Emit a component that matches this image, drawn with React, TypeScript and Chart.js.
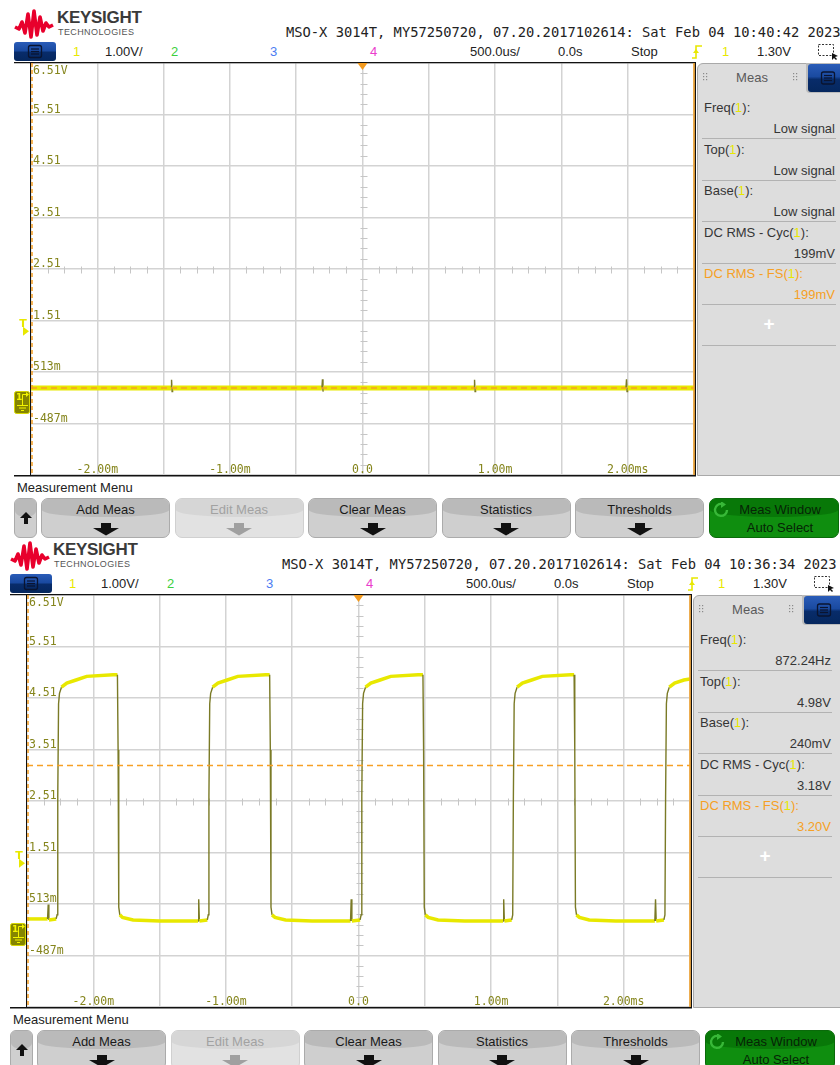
import React, { useEffect, useRef } from 'react';
import { Chart, registerables } from 'chart.js';

Chart.register(...registerables);

// ---- Graticule: 10 divisions of 500 us, 8 divisions of 1.00 V ----
const timeGridMs = [-2.5, -2, -1.5, -1, -0.5, 0, 0.5, 1, 1.5, 2, 2.5];
const voltGrid = [-1.49, -0.49, 0.51, 1.51, 2.51, 3.51, 4.51, 5.51, 6.51];
const voltLabelValues = [-0.49, 0.51, 1.51, 2.51, 3.51, 4.51, 5.51, 6.51];
const voltLabels = ['-487m', '513m', '1.51', '2.51', '3.51', '4.51', '5.51', '6.51V'];
const timeLabelValues = [-2, -1, 0, 1, 2];
const timeLabels = ['-2.00m', '-1.00m', '0.0', '1.00m', '2.00ms'];
const triggerLevelV = 1.3;
const triggerTimeMs = 0;
const groundV = 0;

// ---- Channel 1 captures, [time in ms, volts] ----
const idleTrace: [number, number][] = [
  [-2.5, 0.2], [-1.444, 0.2], [-1.44, 0.36], [-1.436, 0.13], [-1.432, 0.2],
  [-0.306, 0.2], [-0.302, 0.37], [-0.298, 0.13], [-0.294, 0.2],
  [0.841, 0.2], [0.845, 0.36], [0.849, 0.13], [0.853, 0.2],
  [1.987, 0.2], [1.991, 0.37], [1.995, 0.13], [1.999, 0.2],
  [2.5, 0.2],
];

const clockTrace: [number, number][] = [
  [-2.5, 0.22], [-2.345, 0.22], [-2.34, 0.5], [-2.335, 0.2], [-2.28, 0.22],
  [-2.273, 0.3], [-2.268, 2.6], [-2.262, 4.4], [-2.255, 4.6], [-2.24, 4.72], [-2.2, 4.8], [-2.13, 4.86], [-2.05, 4.93], [-1.85, 4.96], [-1.818, 4.96],
  [-1.813, 3.5], [-1.808, 0.45], [-1.8, 0.3], [-1.78, 0.25], [-1.7, 0.2], [-1.5, 0.18], [-1.21, 0.18], [-1.205, 0.6], [-1.2, 0.18], [-1.14, 0.2],
  [-1.133, 0.3], [-1.128, 2.6], [-1.122, 4.4], [-1.115, 4.6], [-1.1, 4.72], [-1.06, 4.8], [-0.99, 4.86], [-0.91, 4.93], [-0.7, 4.96], [-0.67, 4.96],
  [-0.665, 3.5], [-0.66, 0.45], [-0.652, 0.3], [-0.63, 0.25], [-0.55, 0.2], [-0.35, 0.18], [-0.06, 0.18], [-0.055, 0.6], [-0.05, 0.18], [0.012, 0.2],
  [0.02, 0.3], [0.025, 2.6], [0.031, 4.4], [0.038, 4.6], [0.053, 4.72], [0.093, 4.8], [0.163, 4.86], [0.243, 4.93], [0.45, 4.96], [0.486, 4.96],
  [0.491, 3.5], [0.496, 0.45], [0.504, 0.3], [0.526, 0.25], [0.6, 0.2], [0.8, 0.18], [1.09, 0.18], [1.095, 0.6], [1.1, 0.18], [1.155, 0.2],
  [1.163, 0.3], [1.168, 2.6], [1.174, 4.4], [1.181, 4.6], [1.196, 4.72], [1.236, 4.8], [1.306, 4.86], [1.386, 4.93], [1.6, 4.96], [1.626, 4.96],
  [1.631, 3.5], [1.636, 0.45], [1.644, 0.3], [1.666, 0.25], [1.74, 0.2], [1.94, 0.18], [2.235, 0.18], [2.24, 0.6], [2.245, 0.18], [2.303, 0.2],
  [2.311, 0.3], [2.316, 2.6], [2.322, 4.4], [2.329, 4.6], [2.344, 4.72], [2.384, 4.8], [2.454, 4.86], [2.5, 4.88],
];

// ---- Measurement readouts ----
const measNames = ['Freq', 'Top', 'Base', 'DC RMS - Cyc', 'DC RMS - FS'];
const idleReadouts = ['Low signal', 'Low signal', 'Low signal', '199mV', '199mV'];
const clockReadouts = ['872.24Hz', '4.98V', '240mV', '3.18V', '3.20V'];
const idleRmsV = 0.199;
const clockRmsV = 3.2;

const menuKeys = ['Add Meas', 'Edit Meas', 'Clear Meas', 'Statistics', 'Thresholds'];

const YELLOW = '#e8e800';
const ORANGE = '#f6a024';
const SANS = '"Liberation Sans", Arial, sans-serif';
const MONO = '"DejaVu Sans Mono", monospace';

const steep = (c: any) => Math.abs(c.p1.y - c.p0.y) > 3 * Math.abs(c.p1.x - c.p0.x);

// Draws labels, centre-axis minor ticks, frame and channel markers
const graticule = {
  id: 'graticule',
  beforeDatasetsDraw(chart: any) {
    const { ctx, chartArea: a, scales } = chart;
    const x = scales.x;
    const y = scales.y;
    ctx.save();
    ctx.strokeStyle = '#c6c6c6';
    ctx.lineWidth = 1;
    ctx.beginPath();
    const cx = Math.round(x.getPixelForValue(0)) + 0.5;
    const cy = Math.round(y.getPixelForValue(2.51)) + 0.5;
    for (let i = 1; i < 40; i++) {
      if (i % 5 === 0) continue;
      const py = Math.round(y.getPixelForValue(-1.49 + i * 0.2)) + 0.5;
      ctx.moveTo(cx - 3, py);
      ctx.lineTo(cx + 4, py);
    }
    for (let i = 1; i < 40; i++) {
      if (i % 4 === 0) continue;
      const px = Math.round(x.getPixelForValue(-2.5 + i * 0.125)) + 0.5;
      ctx.moveTo(px, cy - 3);
      ctx.lineTo(px, cy + 4);
    }
    ctx.stroke();

    ctx.fillStyle = '#85851c';
    ctx.font = '11.5px ' + MONO;
    ctx.textAlign = 'left';
    voltLabelValues.forEach((v, i) => {
      const py = y.getPixelForValue(v);
      if (i === voltLabelValues.length - 1) {
        ctx.textBaseline = 'top';
        ctx.fillText(voltLabels[i], a.left + 2, py + 2);
      } else {
        ctx.textBaseline = 'alphabetic';
        ctx.fillText(voltLabels[i], a.left + 2, py - 2);
      }
    });
    ctx.textAlign = 'center';
    ctx.textBaseline = 'alphabetic';
    timeLabelValues.forEach((t, i) => {
      ctx.fillText(timeLabels[i], x.getPixelForValue(t), a.bottom - 2);
    });
    ctx.restore();
  },
  afterDraw(chart: any) {
    const { ctx, chartArea: a, scales } = chart;
    const x = scales.x;
    const y = scales.y;
    ctx.save();
    // frame
    ctx.strokeStyle = '#111';
    ctx.lineWidth = 1.5;
    ctx.beginPath();
    ctx.moveTo(6, a.top - 0.5);
    ctx.lineTo(a.right + 2, a.top - 0.5);
    ctx.moveTo(6, a.bottom + 0.75);
    ctx.lineTo(a.right + 2, a.bottom + 0.75);
    ctx.moveTo(a.right + 1.25, a.top);
    ctx.lineTo(a.right + 1.25, a.bottom);
    ctx.stroke();
    ctx.lineWidth = 1;
    ctx.beginPath();
    ctx.moveTo(a.left - 0.5, a.top);
    ctx.lineTo(a.left - 0.5, a.bottom);
    ctx.stroke();
    // measurement window edges
    ctx.strokeStyle = ORANGE;
    ctx.lineWidth = 1.5;
    ctx.setLineDash([4, 3]);
    ctx.beginPath();
    ctx.moveTo(a.left + 1, a.top);
    ctx.lineTo(a.left + 1, a.bottom);
    ctx.stroke();
    ctx.setLineDash([]);
    ctx.beginPath();
    ctx.moveTo(a.right, a.top);
    ctx.lineTo(a.right, a.bottom);
    ctx.stroke();
    // trigger time marker
    const tx = x.getPixelForValue(triggerTimeMs);
    ctx.fillStyle = '#f39a1e';
    ctx.beginPath();
    ctx.moveTo(tx - 5, a.top);
    ctx.lineTo(tx + 5, a.top);
    ctx.lineTo(tx, a.top + 7);
    ctx.closePath();
    ctx.fill();
    // trigger level marker
    const ty = y.getPixelForValue(triggerLevelV);
    ctx.fillStyle = YELLOW;
    ctx.strokeStyle = YELLOW;
    ctx.font = 'bold 11px "DejaVu Sans", sans-serif';
    ctx.textAlign = 'center';
    ctx.textBaseline = 'alphabetic';
    ctx.fillText('T', a.left - 8, ty - 4);
    ctx.beginPath();
    ctx.moveTo(a.left - 8, ty - 4.5);
    ctx.lineTo(a.left - 8, ty + 4.5);
    ctx.lineTo(a.left - 2, ty);
    ctx.closePath();
    ctx.fill();
    // channel 1 ground marker
    const gy = Math.round(y.getPixelForValue(groundV));
    const bx = a.left - 17;
    const by = gy - 7;
    ctx.fillStyle = '#858500';
    ctx.strokeStyle = '#d8d800';
    ctx.lineWidth = 1;
    ctx.beginPath();
    ctx.roundRect(bx + 0.5, by + 0.5, 15, 22, 2);
    ctx.fill();
    ctx.stroke();
    ctx.fillStyle = '#f4f400';
    ctx.font = 'bold 9px "DejaVu Sans", sans-serif';
    ctx.textAlign = 'left';
    ctx.textBaseline = 'top';
    ctx.fillText('1', bx + 2, by + 2);
    ctx.strokeStyle = '#f4f400';
    ctx.beginPath();
    ctx.moveTo(bx + 8.5, by + 10);
    ctx.lineTo(bx + 8.5, by + 3.5);
    ctx.lineTo(bx + 12, by + 3.5);
    ctx.moveTo(bx + 8.5, by + 10);
    ctx.lineTo(bx + 8.5, by + 14);
    ctx.moveTo(bx + 3, by + 14.5);
    ctx.lineTo(bx + 14, by + 14.5);
    ctx.moveTo(bx + 5, by + 17);
    ctx.lineTo(bx + 12, by + 17);
    ctx.moveTo(bx + 7, by + 19.5);
    ctx.lineTo(bx + 10, by + 19.5);
    ctx.stroke();
    ctx.beginPath();
    ctx.moveTo(bx + 12, by + 1);
    ctx.lineTo(bx + 15, by + 3.5);
    ctx.lineTo(bx + 12, by + 6);
    ctx.closePath();
    ctx.fill();
    ctx.restore();
  },
};

function ScopePlot({ trace, rms, width }: { trace: [number, number][]; rms: number; width: number }) {
  const ref = useRef<HTMLCanvasElement>(null);
  useEffect(() => {
    const chart = new Chart(ref.current as HTMLCanvasElement, {
      type: 'line',
      data: {
        datasets: [
          {
            data: [{ x: -2.5, y: rms }, { x: 2.5, y: rms }],
            borderColor: ORANGE,
            borderWidth: 1.5,
            borderDash: [6, 4],
            pointRadius: 0,
          },
          {
            data: trace.map(([t, v]) => ({ x: t, y: v })),
            borderColor: YELLOW,
            borderWidth: width,
            pointRadius: 0,
            tension: 0,
            segment: {
              borderColor: (c: any) => (steep(c) ? '#7a7a26' : YELLOW),
              borderWidth: (c: any) => (steep(c) ? 1.4 : width),
            },
          } as any,
        ],
      },
      options: {
        animation: false,
        responsive: false,
        maintainAspectRatio: false,
        events: [],
        layout: { padding: { left: 23, right: 2, top: 1, bottom: 2 } },
        plugins: { legend: { display: false }, tooltip: { enabled: false } },
        scales: {
          x: {
            type: 'linear',
            min: -2.5,
            max: 2.5,
            afterBuildTicks: (s: any) => {
              s.ticks = timeGridMs.map((v) => ({ value: v }));
            },
            ticks: { display: false },
            grid: { color: '#d3d3d3', lineWidth: 1.5, drawTicks: false },
            border: { display: false },
          },
          y: {
            type: 'linear',
            min: -1.49,
            max: 6.51,
            afterBuildTicks: (s: any) => {
              s.ticks = voltGrid.map((v) => ({ value: v }));
            },
            ticks: { display: false },
            grid: { color: '#d3d3d3', lineWidth: 1.5, drawTicks: false },
            border: { display: false },
          },
        },
      },
      plugins: [graticule],
    });
    return () => chart.destroy();
  }, [trace, rms, width]);
  return (
    <canvas
      ref={ref}
      width={688}
      height={415}
      style={{ position: 'absolute', left: 8, top: 62, width: 688, height: 415 }}
    />
  );
}

function Logo() {
  return (
    <div style={{ position: 'absolute', left: 14, top: 8 }}>
      <svg width="40" height="32" style={{ position: 'absolute', left: 0, top: 0 }}>
        <polyline
          points="1,19 5,21 8,14 11,25 14,6 17,29 20,3 23,27 26,9 29,23 32,15 35,19 39,17"
          fill="none"
          stroke="#e8002c"
          strokeWidth="3.6"
          strokeLinejoin="round"
        />
      </svg>
      <div style={{ position: 'absolute', left: 43, top: 0, font: 'bold 17px ' + SANS, letterSpacing: -0.3, color: '#3a3a3a', whiteSpace: 'nowrap' }}>
        KEYSIGHT
      </div>
      <div style={{ position: 'absolute', left: 44, top: 19, font: '9px ' + SANS, letterSpacing: 0.4, color: '#555', whiteSpace: 'nowrap' }}>
        TECHNOLOGIES
      </div>
    </div>
  );
}

function MenuIcon({ left, top, w, h }: { left: number; top: number; w: number; h: number }) {
  return (
    <div
      style={{
        position: 'absolute', left, top, width: w, height: h, borderRadius: 3,
        background: 'linear-gradient(#2a5cb8 0%, #1a4aa0 45%, #082c6a 55%, #05275e 100%)',
      }}
    >
      <svg width={w} height={h} style={{ position: 'absolute', left: 0, top: 0 }}>
        <rect x={w / 2 - 6.5} y={h / 2 - 6} width="13" height="12" rx="2" fill="none" stroke="#0a1430" strokeWidth="1.3" />
        <line x1={w / 2 - 4} x2={w / 2 + 4} y1={h / 2 - 2.5} y2={h / 2 - 2.5} stroke="#0a1430" strokeWidth="1.2" />
        <line x1={w / 2 - 4} x2={w / 2 + 4} y1={h / 2} y2={h / 2} stroke="#0a1430" strokeWidth="1.2" />
        <line x1={w / 2 - 4} x2={w / 2 + 4} y1={h / 2 + 2.5} y2={h / 2 + 2.5} stroke="#0a1430" strokeWidth="1.2" />
      </svg>
    </div>
  );
}

const statusItems: [string, number, string][] = [
  ['1', 73, YELLOW],
  ['1.00V/', 105, '#222'],
  ['2', 171, '#3ccf3c'],
  ['3', 270, '#4c7cf2'],
  ['4', 370, '#ea3ccc'],
  ['500.0us/', 470, '#222'],
  ['0.0s', 558, '#222'],
  ['Stop', 631, '#222'],
  ['1', 722, YELLOW],
  ['1.30V', 757, '#222'],
];

function StatusRow() {
  return (
    <>
      <MenuIcon left={14} top={42} w={42} h={19} />
      {statusItems.map(([t, x, c], i) => (
        <div key={i} style={{ position: 'absolute', left: x, top: 44, font: '13px ' + SANS, color: c, lineHeight: '16px', whiteSpace: 'nowrap' }}>
          {t}
        </div>
      ))}
      <svg width="12" height="16" style={{ position: 'absolute', left: 691, top: 44 }}>
        <polyline points="1,14 5,14 5,2 11,2" fill="none" stroke={YELLOW} strokeWidth="1.6" />
        <polygon points="2,9 8,9 5,5" fill={YELLOW} />
      </svg>
      <svg width="24" height="18" style={{ position: 'absolute', left: 817, top: 42 }}>
        <rect x="1.5" y="2.5" width="15" height="11" fill="none" stroke="#333" strokeWidth="1" strokeDasharray="2,1.5" />
        <polygon points="15,11 15,18 17,16 19,18 20,17 18,15 21,14" fill="#111" />
      </svg>
    </>
  );
}

function MeasPanel({ readouts }: { readouts: string[] }) {
  return (
    <div
      style={{
        position: 'absolute', left: 697, top: 63, width: 150, height: 413, boxSizing: 'border-box',
        background: '#dddddd', border: '1px solid #a9a9a9', borderTopLeftRadius: 6,
      }}
    >
      <div style={{ position: 'absolute', left: 0, width: 108, top: 6, textAlign: 'center', font: '13px ' + SANS, color: '#5a5a5a' }}>
        Meas
      </div>
      {[5, 95].map((gx) => (
        <svg key={gx} width="6" height="9" style={{ position: 'absolute', left: gx, top: 9 }}>
          {[0, 3, 6].map((gy) => (
            <g key={gy}>
              <rect x="0" y={gy} width="1.2" height="1.2" fill="#8a8a8a" />
              <rect x="3" y={gy} width="1.2" height="1.2" fill="#8a8a8a" />
            </g>
          ))}
        </svg>
      ))}
      <div style={{ position: 'absolute', left: 108, top: -1, width: 42, height: 30, background: '#bcbcbc', borderBottomLeftRadius: 4 }} />
      <MenuIcon left={110} top={0} w={40} h={28} />
      {measNames.map((name, i) => {
        const orange = i === measNames.length - 1;
        const color = orange ? ORANGE : '#353535';
        return (
          <React.Fragment key={name}>
            <div style={{ position: 'absolute', left: 6, top: 36 + 41.5 * i, font: '13px ' + SANS, color, lineHeight: '16px', whiteSpace: 'nowrap' }}>
              {name}(<span style={{ color: YELLOW }}>1</span>):
            </div>
            <div style={{ position: 'absolute', left: 0, width: 137, top: 57 + 41.5 * i, textAlign: 'right', font: '13px ' + SANS, color, lineHeight: '16px', whiteSpace: 'nowrap' }}>
              {readouts[i]}
            </div>
            <div style={{ position: 'absolute', left: 4, width: 134, top: 74 + 41.5 * i, height: 1, background: '#b2b2b2' }} />
          </React.Fragment>
        );
      })}
      <div style={{ position: 'absolute', left: 0, width: 142, top: 249, textAlign: 'center', font: 'bold 19px ' + SANS, color: '#fff', lineHeight: '22px' }}>
        +
      </div>
      <div style={{ position: 'absolute', left: 4, width: 134, top: 281, height: 1, background: '#b2b2b2' }} />
    </div>
  );
}

function DownArrow({ color }: { color: string }) {
  return (
    <svg width="26" height="13" style={{ position: 'absolute', left: '50%', marginLeft: -13, top: 24 }}>
      <rect x="8" y="0" width="10" height="6" fill={color} />
      <polygon points="0,5 26,5 13,12.5" fill={color} />
    </svg>
  );
}

function SoftKey({ left, label, kind }: { left: number; label: string; kind: 'on' | 'off' }) {
  const off = kind === 'off';
  return (
    <div
      style={{
        position: 'absolute', left, top: 498, width: 129, height: 40, boxSizing: 'border-box',
        border: '1px solid ' + (off ? '#d0d0d0' : '#ababab'), borderRadius: 7,
        background: off ? '#e2e2e2' : '#cfcfcf', overflow: 'hidden',
      }}
    >
      <div style={{ position: 'absolute', left: 0, right: 0, top: 0, height: 18, background: off ? '#d6d6d6' : '#bababa', borderRadius: '0 0 50% 50% / 0 0 7px 7px' }} />
      <div style={{ position: 'absolute', left: 0, right: 0, top: 3, textAlign: 'center', font: '13px ' + SANS, color: off ? '#a2a2a2' : '#1a1a1a', lineHeight: '16px' }}>
        {label}
      </div>
      <DownArrow color={off ? '#a0a0a0' : '#111'} />
    </div>
  );
}

function MenuBar() {
  return (
    <>
      <div style={{ position: 'absolute', left: 17, top: 480, font: '13px ' + SANS, color: '#222', lineHeight: '16px', whiteSpace: 'nowrap' }}>
        Measurement Menu
      </div>
      <div
        style={{
          position: 'absolute', left: 14, top: 498, width: 23, height: 40, boxSizing: 'border-box',
          border: '1px solid #ababab', borderRadius: 6, background: '#cfcfcf', overflow: 'hidden',
        }}
      >
        <div style={{ position: 'absolute', left: 0, right: 0, top: 0, height: 18, background: '#bababa', borderRadius: '0 0 50% 50% / 0 0 6px 6px' }} />
        <svg width="12" height="13" style={{ position: 'absolute', left: 5, top: 13 }}>
          <polygon points="6,0 12,6 0,6" fill="#111" />
          <rect x="4" y="6" width="4" height="6" fill="#111" />
        </svg>
      </div>
      {menuKeys.map((k, i) => (
        <SoftKey key={k} left={41 + 133.5 * i} label={k} kind={k === 'Edit Meas' ? 'off' : 'on'} />
      ))}
      <div
        style={{
          position: 'absolute', left: 709, top: 498, width: 130, height: 40, boxSizing: 'border-box',
          border: '1px solid #0a6a0a', borderRadius: 7, background: '#0f8e0f', overflow: 'hidden',
        }}
      >
        <div style={{ position: 'absolute', left: 0, right: 0, top: 0, height: 18, background: '#087808', borderRadius: '0 0 50% 50% / 0 0 7px 7px' }} />
        <svg width="18" height="16" style={{ position: 'absolute', left: 3, top: 3 }}>
          <path d="M14,8 A6,6 0 1 1 9,2" fill="none" stroke="#38b838" strokeWidth="2.4" />
          <polygon points="8,-1 13,2.5 8,6" fill="#38b838" />
        </svg>
        <div style={{ position: 'absolute', left: 12, right: 0, top: 3, textAlign: 'center', font: '13px ' + SANS, color: '#062406', lineHeight: '16px', whiteSpace: 'nowrap' }}>
          Meas Window
        </div>
        <div style={{ position: 'absolute', left: 12, right: 0, top: 21, textAlign: 'center', font: '13px ' + SANS, color: '#062406', lineHeight: '16px', whiteSpace: 'nowrap' }}>
          Auto Select
        </div>
      </div>
    </>
  );
}

function Screen({ left, top, stamp, trace, rms, readouts, width }: {
  left: number; top: number; stamp: string; trace: [number, number][]; rms: number; readouts: string[]; width: number;
}) {
  return (
    <div style={{ position: 'absolute', left, top, width: 850, height: 540 }}>
      <Logo />
      <div style={{ position: 'absolute', left: 286, top: 24, font: '13.75px ' + MONO, color: '#222', whiteSpace: 'nowrap', lineHeight: '16px' }}>
        {stamp}
      </div>
      <StatusRow />
      <ScopePlot trace={trace} rms={rms} width={width} />
      <MeasPanel readouts={readouts} />
      <MenuBar />
    </div>
  );
}

export default function App() {
  return (
    <div style={{ position: 'fixed', left: 0, top: 0, width: 840, height: 1065, overflow: 'hidden', background: '#fff' }}>
      <Screen
        left={0}
        top={0}
        stamp="MSO-X 3014T, MY57250720, 07.20.2017102614: Sat Feb 04 10:40:42 2023"
        trace={idleTrace}
        rms={idleRmsV}
        readouts={idleReadouts}
        width={5}
      />
      <Screen
        left={-4}
        top={532}
        stamp="MSO-X 3014T, MY57250720, 07.20.2017102614: Sat Feb 04 10:36:34 2023"
        trace={clockTrace}
        rms={clockRmsV}
        readouts={clockReadouts}
        width={3.5}
      />
    </div>
  );
}
